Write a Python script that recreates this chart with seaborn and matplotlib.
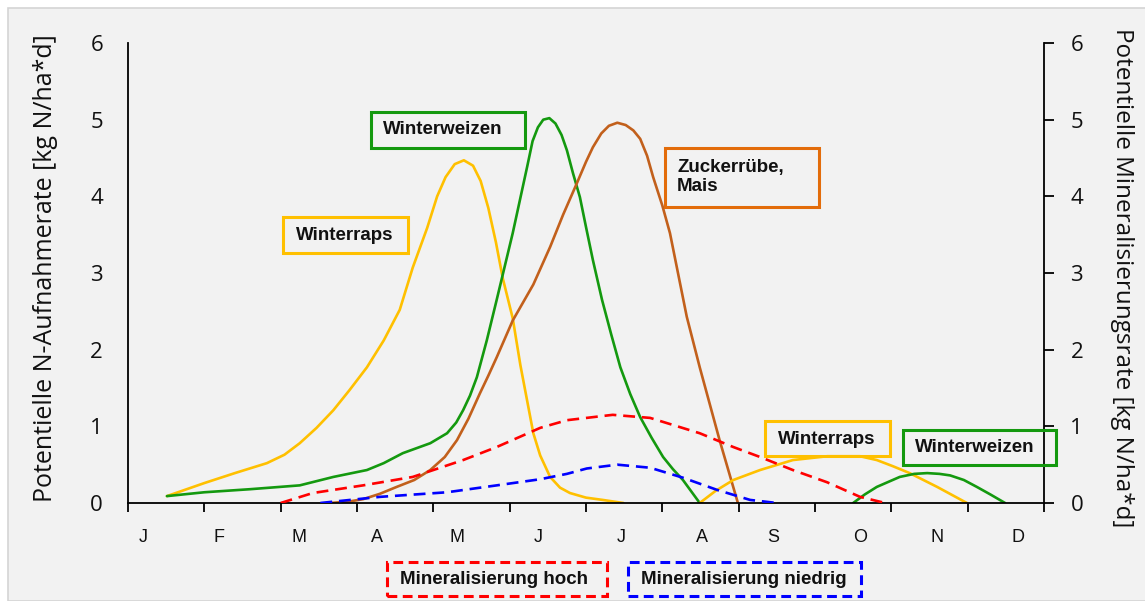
import matplotlib
matplotlib.use("Agg")
import matplotlib.pyplot as plt
import seaborn as sns
from matplotlib.patches import Rectangle

# months (x axis is month index 0..12)
months = ['J', 'F', 'M', 'A', 'M', 'J', 'J', 'A', 'S', 'O', 'N', 'D']
month_label_pos = [0.2, 1.19, 2.24, 3.26, 4.31, 5.37, 6.46, 7.52, 8.45, 9.59, 10.6, 11.66]

# Winterraps, spring
raps_x = [0.51, 1.0, 1.4, 1.82, 2.05, 2.25, 2.47, 2.69, 2.9, 3.13, 3.35, 3.56, 3.73, 3.92,
          4.05, 4.16, 4.28, 4.4, 4.52, 4.62, 4.72, 4.82, 4.91, 5.04, 5.14, 5.31, 5.4, 5.53,
          5.66, 5.79, 6.0, 6.22, 6.49]
raps_y = [0.09, 0.26, 0.39, 0.52, 0.63, 0.78, 0.98, 1.21, 1.47, 1.77, 2.12, 2.52, 3.07, 3.59,
          4.0, 4.25, 4.42, 4.47, 4.40, 4.2, 3.85, 3.4, 2.93, 2.41, 1.8, 0.91, 0.62, 0.34,
          0.2, 0.13, 0.07, 0.04, 0.0]

# Winterweizen, spring
weizen_x = [0.51, 1.0, 1.6, 2.25, 2.69, 3.13, 3.35, 3.6, 3.96, 4.18, 4.3, 4.39, 4.48, 4.57,
            4.7, 4.83, 5.04, 5.23, 5.3, 5.37, 5.44, 5.52, 5.6, 5.68, 5.75, 5.83, 5.92, 6.0,
            6.09, 6.21, 6.33, 6.45, 6.58, 6.71, 6.86, 7.01, 7.14, 7.27, 7.38, 7.49]
weizen_y = [0.09, 0.14, 0.18, 0.23, 0.34, 0.43, 0.52, 0.65, 0.78, 0.91, 1.05, 1.21, 1.4, 1.64,
            2.12, 2.65, 3.52, 4.39, 4.72, 4.9, 5.0, 5.02, 4.95, 4.8, 4.6, 4.3, 3.99, 3.6,
            3.17, 2.65, 2.2, 1.77, 1.42, 1.12, 0.85, 0.6, 0.44, 0.3, 0.15, 0.0]

# Zuckerrübe, Mais
zr_x = [2.65, 2.9, 3.08, 3.3, 3.52, 3.75, 3.96, 4.15, 4.31, 4.46, 4.61, 4.72, 4.83, 5.04,
        5.31, 5.53, 5.7, 5.88, 6.0, 6.09, 6.2, 6.3, 6.41, 6.52, 6.62, 6.71, 6.8, 6.88,
        7.0, 7.1, 7.32, 7.49, 7.75, 7.99]
zr_y = [0.0, 0.02, 0.05, 0.12, 0.21, 0.3, 0.43, 0.6, 0.82, 1.1, 1.43, 1.66, 1.9, 2.38,
        2.85, 3.34, 3.76, 4.17, 4.45, 4.64, 4.82, 4.92, 4.96, 4.93, 4.86, 4.75, 4.53, 4.25,
        3.88, 3.52, 2.43, 1.77, 0.82, 0.0]

# Winterraps, autumn
raps2_x = [7.49, 7.7, 7.93, 8.28, 8.71, 9.16, 9.59, 9.81, 10.02, 10.24, 10.6, 10.99]
raps2_y = [0.0, 0.16, 0.3, 0.43, 0.56, 0.61, 0.61, 0.56, 0.48, 0.39, 0.21, 0.0]

# Winterweizen, autumn
weizen2_x = [9.5, 9.65, 9.81, 10.11, 10.3, 10.47, 10.63, 10.77, 10.95, 11.12, 11.3, 11.49]
weizen2_y = [0.0, 0.11, 0.21, 0.34, 0.38, 0.39, 0.38, 0.36, 0.3, 0.21, 0.11, 0.0]

# Mineralisierung hoch / niedrig (right axis)
min_hoch_x = [2.0, 2.42, 3.08, 3.73, 4.39, 4.83, 5.4, 5.75, 6.35, 6.84, 7.49, 7.93, 8.28,
              8.71, 9.16, 9.59, 9.92]
min_hoch_y = [0.0, 0.13, 0.23, 0.34, 0.56, 0.73, 0.98, 1.08, 1.15, 1.11, 0.91, 0.73, 0.6,
              0.43, 0.27, 0.08, 0.0]
min_niedrig_x = [2.52, 3.3, 4.18, 4.83, 5.4, 5.75, 6.01, 6.41, 6.84, 7.27, 7.72, 8.15, 8.5]
min_niedrig_y = [0.0, 0.08, 0.14, 0.23, 0.31, 0.38, 0.45, 0.5, 0.46, 0.33, 0.17, 0.04, 0.0]

YELLOW = '#FFC000'
GREEN = '#14990f'
BROWN = '#C2601C'
ORANGE = '#E36C0A'

W, H = 1145, 601

sns.set_theme(style="white")
plt.rcParams['font.family'] = ['Open Sans', 'DejaVu Sans']

fig = plt.figure(figsize=(W / 100, H / 100), dpi=100, facecolor='white')
# grey panel behind everything
fig.patches.append(Rectangle((8 / W, 0), 1, 1 - 8 / H, transform=fig.transFigure,
                             facecolor='#f2f2f2', edgecolor='#d4d4d4', lw=1.2, zorder=-10))

ax = fig.add_axes([128 / W, (H - 503) / H, (1044 - 128) / W, (503 - 43) / H])
ax.set_facecolor('none')
ax2 = ax.twinx()
ax2.set_facecolor('none')

lw = 1.9
sns.lineplot(x=raps_x, y=raps_y, ax=ax, color=YELLOW, lw=lw)
sns.lineplot(x=weizen_x, y=weizen_y, ax=ax, color=GREEN, lw=lw)
sns.lineplot(x=zr_x, y=zr_y, ax=ax, color=BROWN, lw=lw)
sns.lineplot(x=raps2_x, y=raps2_y, ax=ax, color=YELLOW, lw=lw)
sns.lineplot(x=weizen2_x, y=weizen2_y, ax=ax, color=GREEN, lw=lw)
for line in ax.get_lines():
    line.set_solid_joinstyle('round')

sns.lineplot(x=min_hoch_x, y=min_hoch_y, ax=ax2, color='#ff0000', lw=lw)
sns.lineplot(x=min_niedrig_x, y=min_niedrig_y, ax=ax2, color='#0000ff', lw=lw)
for line in ax2.get_lines():
    line.set_dashes((4.5, 2.6))

for a in (ax, ax2):
    a.set_xlim(0, 12)
    a.set_ylim(0, 6)
    a.set_yticks(range(7))
    for s in a.spines.values():
        s.set_visible(False)

ax.spines['left'].set_visible(True)
ax.spines['bottom'].set_visible(True)
ax2.spines['right'].set_visible(True)
for s in (ax.spines['left'], ax.spines['bottom'], ax2.spines['right']):
    s.set_color('black')
    s.set_linewidth(1.3)

ax.set_xticks(range(13))
ax.set_xticklabels([])
ax.tick_params(axis='x', which='major', direction='out', length=6.5, width=1.3,
               color='black', bottom=True)
ax.set_xticks(month_label_pos, minor=True)
ax.set_xticklabels(months, minor=True, fontsize=13, family='Liberation Sans')
ax.tick_params(axis='x', which='minor', length=0, pad=19, labelcolor='#111111')

ax.tick_params(axis='y', length=0, pad=18, labelsize=16, labelcolor='#111111')
ax2.tick_params(axis='y', right=True, direction='out', length=7, width=1.3, color='black',
                pad=12, labelsize=16, labelcolor='#111111')

ax.set_ylabel('Potentielle N-Aufnahmerate [kg N/ha*d]', fontsize=18, color='#111111',
              va='center')
ax.yaxis.set_label_coords(-0.0906, 0.511)
ax2.set_ylabel('Potentielle Mineralisierungsrate [kg N/ha*d]', fontsize=17.5, color='#111111',
               rotation=-90, va='center')
ax2.yaxis.set_label_coords(1.085, 0.489)


def box(x0, y0, x1, y1, color, ls='-'):
    fig.patches.append(Rectangle((x0 / W, 1 - y1 / H), (x1 - x0) / W, (y1 - y0) / H,
                                 transform=fig.transFigure, fill=False, edgecolor=color,
                                 lw=2.2, ls=ls, zorder=5))


def label(x, y, text, ha='center'):
    fig.text(x / W, 1 - y / H, text, ha=ha, va='center', fontsize=13.5, fontweight='bold',
             family='Liberation Sans', color='#111111', linespacing=1.2)


box(371, 112, 525, 148, GREEN)
label(443, 130, 'Winterweizen')
box(283, 217, 408, 253, YELLOW)
label(345, 235, 'Winterraps')
box(665, 148, 819, 207, ORANGE)
label(677, 177, 'Zuckerrübe,\nMais', ha='left')
box(765, 421, 890, 456, YELLOW)
label(827, 439, 'Winterraps')
box(903, 430, 1056, 465, GREEN)
label(975, 448, 'Winterweizen')
box(387, 562, 607, 596, '#ff0000', ls=(0, (3.2, 1.8)))
label(494, 579, 'Mineralisierung hoch')
box(628, 562, 861, 596, '#0000ff', ls=(0, (3.2, 1.8)))
label(744, 579, 'Mineralisierung niedrig')

fig.savefig('out.png', dpi=100, facecolor=fig.get_facecolor())
